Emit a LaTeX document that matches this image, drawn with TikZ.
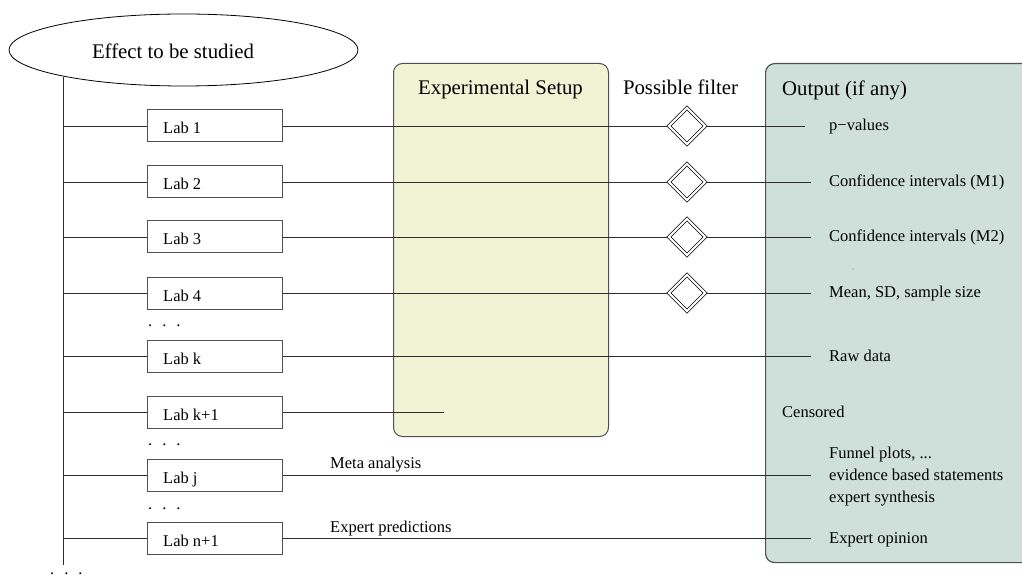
\documentclass[tikz,border=0pt]{standalone}
\usepackage{fontspec}
\setmainfont{Liberation Serif}
\usetikzlibrary{shapes.geometric}
\definecolor{setupfill}{HTML}{F2F2D4}
\definecolor{outfill}{HTML}{CFE0DA}
\definecolor{linegray}{HTML}{2E2E2E}
\definecolor{boxgray}{HTML}{505050}
\begin{document}
\begin{tikzpicture}[x=1pt,y=-1pt,
  conn/.style={draw=linegray,line width=0.9pt},
  labbox/.style={draw=boxgray,line width=1pt,minimum width=135pt,minimum height=32pt,inner sep=0pt},
  smalltxt/.style={anchor=base west,inner sep=0pt,font=\fontsize{16.5}{20}\selectfont},
  outtxt/.style={anchor=base west,inner ysep=0pt,inner xsep=18pt,font=\fontsize{16.5}{20}\selectfont},
  bigtxt/.style={anchor=base,inner sep=0pt,font=\fontsize{20.8}{25}\selectfont},
  filt/.style={diamond,draw=black,double=white,double distance=2.2pt,line width=0.7pt,minimum size=36.5pt,inner sep=0pt},
  dotstxt/.style={anchor=base west,inner sep=0pt,font=\fontsize{16.5}{20}\selectfont},
]
\useasboundingbox (0,0) rectangle (1022,577);

% big boxes
\node[draw=boxgray,line width=1pt,fill=setupfill,rounded corners=9pt,minimum width=215pt,minimum height=373pt,anchor=north west,inner sep=0pt] (setup) at (393,63) {};
\node[draw=boxgray,line width=1.2pt,fill=outfill,rounded corners=9pt,minimum width=280pt,minimum height=499pt,anchor=north west,inner sep=0pt] (outbox) at (765,63) {};

% ellipse
\node[ellipse,draw=black,line width=0.8pt,minimum width=349pt,minimum height=72pt,inner sep=0pt] (effect) at (183.5,50) {};
\node[bigtxt] (effectt) at (173,59) {Effect to be studied};

% titles
\node[bigtxt] (setupt) at (500.5,95) {Experimental Setup};
\node[bigtxt] (filtt) at (680.5,95) {Possible filter};
\node[bigtxt,anchor=base west] (outt) at (782,96) {Output (if any)};

% trunk
\coordinate (vtop) at (63,77);
\coordinate (vbot) at (63,565);
\draw[conn] (vtop) -- (vbot);

% lab boxes
\foreach \n/\y/\t in {1/126/Lab 1,2/182/Lab 2,3/237/Lab 3,4/293/Lab 4,k/356/Lab k,kk/412/Lab k+1,j/475/Lab j,n/538/Lab n+1}{
  \node[labbox] (lab\n) at (214.5,\y) {};
  \node[smalltxt] (lab\n t) at (163,\y+8) {\t};
  \coordinate (br\n) at (63,\y);
  \draw[conn] (br\n) -- (lab\n.west);
}

% dots
\node[dotstxt] (dots1) at (148,326) {.\hspace{10pt}.\hspace{10pt}.};
\node[dotstxt] (dots2) at (148,445) {.\hspace{10pt}.\hspace{10pt}.};
\node[dotstxt] (dots3) at (148,509) {.\hspace{10pt}.\hspace{10pt}.};
\node[dotstxt] (dots4) at (50,574) {.\hspace{10pt}.\hspace{10pt}.};

% filters
\foreach \n/\y in {1/126,2/182,3/237,4/293}{
  \node[filt] (f\n) at (687,\y) {};
}

% output texts
\node[outtxt,inner xsep=24pt] (o1) at (805,131) {p\textminus values};
\node[outtxt] (o2) at (811,187) {Confidence intervals (M1)};
\node[outtxt] (o3) at (811,242) {Confidence intervals (M2)};
\node[outtxt] (o4) at (811,298) {Mean, SD, sample size};
\node[outtxt] (ok) at (811,361) {Raw data};
\node[smalltxt] (cens) at (782,417) {Censored};
\node[outtxt] (funnel) at (811,458) {Funnel plots, ...};
\node[outtxt] (oj) at (811,480) {evidence based statements};
\node[outtxt] (synth) at (811,502) {expert synthesis};
\node[outtxt] (on) at (811,543) {Expert opinion};
\fill[gray] (853,269) circle (0.6pt);

% connectors
\foreach \n/\o in {1/o1,2/o2,3/o3,4/o4}{
  \draw[conn] (lab\n.east) -- (f\n.west);
  \draw[conn] (f\n.east) -- (f\n.east -| \o.west);
}
\draw[conn] (labk.east) -- (labk.east -| ok.west);
\coordinate (kkend) at (444,412);
\draw[conn] (labkk.east) -- (kkend);
\draw[conn] (labj.east) -- (labj.east -| oj.west);
\draw[conn] (labn.east) -- (labn.east -| on.west);

% connector labels
\node[smalltxt] (meta) at (330,468) {Meta analysis};
\node[smalltxt] (pred) at (330,532) {Expert predictions};
\end{tikzpicture}
\end{document}
